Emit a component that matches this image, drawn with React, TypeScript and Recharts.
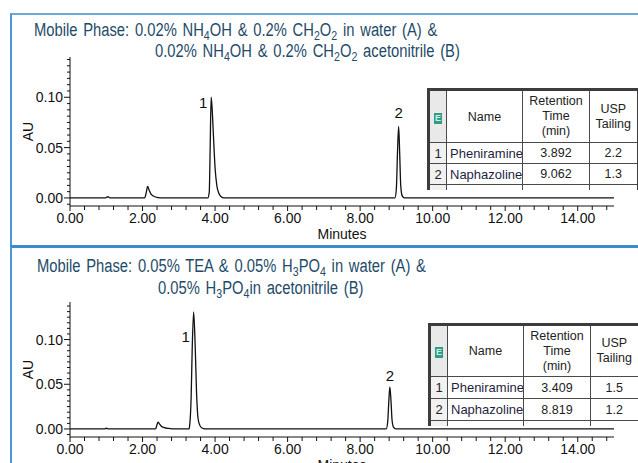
import React from 'react';
import { LineChart, Line, XAxis, YAxis, ReferenceDot } from 'recharts';

// Chromatogram 1: 0.02% NH4OH & 0.2% formic acid
const timeA = [0, 0.98, 1.04, 1.1, 2.06, 2.1, 2.14, 2.18, 2.24, 2.34, 2.5, 3.8, 3.84, 3.865, 3.892, 3.92, 3.96, 4.0, 4.05, 4.1, 4.16, 4.25, 8.96, 9.0, 9.03, 9.062, 9.09, 9.12, 9.16, 9.22, 15];
const auA = [0, 0, 0.0012, 0, 0, 0.005, 0.0115, 0.008, 0.0035, 0.0012, 0, 0, 0.006, 0.05, 0.1, 0.088, 0.058, 0.03, 0.012, 0.005, 0.0015, 0, 0, 0.01, 0.045, 0.071, 0.045, 0.012, 0.002, 0, 0];

// Chromatogram 2: 0.05% TEA & 0.05% H3PO4
const timeB = [0, 0.95, 1.0, 1.06, 1.12, 2.36, 2.4, 2.43, 2.47, 2.52, 2.6, 2.72, 2.9, 3.28, 3.3, 3.34, 3.37, 3.409, 3.45, 3.49, 3.53, 3.58, 3.64, 3.72, 8.72, 8.76, 8.79, 8.819, 8.85, 8.88, 8.92, 8.98, 15];
const auB = [0, 0, 0.0008, 0.0002, 0, 0, 0.005, 0.0075, 0.0055, 0.003, 0.0015, 0.0006, 0, 0, 0.004, 0.035, 0.09, 0.131, 0.095, 0.04, 0.012, 0.004, 0.001, 0, 0, 0.008, 0.03, 0.047, 0.032, 0.01, 0.002, 0, 0];

const peakNames = ['Pheniramine', 'Naphazoline'];
const rtA = ['3.892', '9.062'];
const tailingA = ['2.2', '1.3'];
const apexA = [0.1, 0.071];
const rtB = ['3.409', '8.819'];
const tailingB = ['1.5', '1.2'];
const apexB = [0.131, 0.047];

const majorTicksX = [0, 2, 4, 6, 8, 10, 12, 14];
const majorTicksY = [0, 0.05, 0.1];

const FONT = "'Liberation Sans', Arial, sans-serif";
const TITLE_COLOR = '#1e4b69';

const dataA = timeA.map((t, i) => ({ t, au: auA[i] }));
const dataB = timeB.map((t, i) => ({ t, au: auB[i] }));

const minorX = Array.from({ length: 38 }, (_, k) => +(k * 0.4).toFixed(2));
const minorY = Array.from({ length: 24 }, (_, k) => +((k - 1) * 0.00625).toFixed(5));

const isMult = (v: number, step: number) => Math.abs(v / step - Math.round(v / step)) < 1e-6;

const XTick = (props: any) => {
  const { x, y, payload } = props;
  const v = payload.value;
  const major = majorTicksX.some((m) => Math.abs(m - v) < 1e-6);
  return (
    <g>
      <line x1={x} x2={x} y1={y} y2={y + (major ? 5 : 4)} stroke="#111" strokeWidth={1} />
      {major && (
        <text x={x} y={y + 17} textAnchor="middle" fontSize={14} fontFamily={FONT} fill="#111">
          {v.toFixed(2)}
        </text>
      )}
    </g>
  );
};

const YTick = (props: any) => {
  const { x, y, payload } = props;
  const v = payload.value;
  const major = majorTicksY.some((m) => Math.abs(m - v) < 1e-6);
  return (
    <g>
      <line x1={x - (major ? 6 : 3)} x2={x} y1={y} y2={y} stroke="#111" strokeWidth={1} />
      {major && (
        <text x={x - 7} y={y + 5} textAnchor="end" fontSize={14} fontFamily={FONT} fill="#111">
          {v.toFixed(2)}
        </text>
      )}
    </g>
  );
};

const Sub = ({ children }: { children: React.ReactNode }) => (
  <span style={{ fontSize: '0.72em', verticalAlign: '-0.28em' }}>{children}</span>
);

function TitleLine({ left, top, children }: { left: number; top: number; children: React.ReactNode }) {
  return (
    <div
      style={{
        position: 'absolute',
        left,
        top,
        fontSize: 18,
        lineHeight: '20px',
        whiteSpace: 'nowrap',
        color: TITLE_COLOR,
        fontFamily: FONT,
        transform: 'scaleX(0.82)',
        transformOrigin: 'left center',
        wordSpacing: 2,
      }}
    >
      {children}
    </div>
  );
}

const cell: React.CSSProperties = { border: '1px solid #4a4a4a', padding: 0, overflow: 'hidden', whiteSpace: 'nowrap' };

function ResultsTable({ left, top, headerH, rowH, rts, tailings }: any) {
  return (
    <table
      style={{
        position: 'absolute',
        left,
        top,
        width: 209,
        tableLayout: 'fixed',
        borderCollapse: 'collapse',
        background: '#fff',
        fontFamily: FONT,
        fontSize: 12.5,
        color: '#222',
        borderTop: '3px solid #3c3c3c',
        borderLeft: '3px solid #3c3c3c',
        borderRight: '2px solid #3c3c3c',
      }}
    >
      <colgroup>
        <col style={{ width: 18 }} />
        <col style={{ width: 76 }} />
        <col style={{ width: 67 }} />
        <col style={{ width: 48 }} />
      </colgroup>
      <tbody>
        <tr style={{ height: headerH }}>
          <td style={{ ...cell, background: '#e9e9e9', textAlign: 'center' }}>
            <span
              style={{
                display: 'inline-block',
                width: 8,
                height: 11,
                lineHeight: '11px',
                fontSize: 9,
                fontWeight: 700,
                background: '#2f9c86',
                color: '#cfeee6',
              }}
            >
              E
            </span>
          </td>
          <td style={{ ...cell, textAlign: 'center' }}>Name</td>
          <td style={{ ...cell, textAlign: 'center', lineHeight: '15px' }}>
            Retention
            <br />
            Time
            <br />
            (min)
          </td>
          <td style={{ ...cell, textAlign: 'center', lineHeight: '15px' }}>
            USP
            <br />
            Tailing
          </td>
        </tr>
        {peakNames.map((name, i) => (
          <tr key={name} style={{ height: rowH }}>
            <td style={{ ...cell, background: '#f1f1f1', textAlign: 'center', fontSize: 13 }}>{i + 1}</td>
            <td style={{ ...cell, paddingLeft: 3, color: '#1f1f3d', fontSize: 13 }}>{name}</td>
            <td style={{ ...cell, textAlign: 'center' }}>{rts[i]}</td>
            <td style={{ ...cell, textAlign: 'center' }}>{tailings[i]}</td>
          </tr>
        ))}
        <tr style={{ height: 5 }}>
          {[0, 1, 2, 3].map((k) => (
            <td key={k} style={{ ...cell, borderBottom: 'none', background: k === 0 ? '#f1f1f1' : '#fff' }} />
          ))}
        </tr>
      </tbody>
    </table>
  );
}

function PeakLabel({ viewBox, text, dx, dy }: any) {
  const cx = viewBox.x + (viewBox.width || 0) / 2;
  const cy = viewBox.y + (viewBox.height || 0) / 2;
  return (
    <text x={cx + dx} y={cy + dy} textAnchor="middle" fontSize={15} fontFamily={FONT} fill="#111">
      {text}
    </text>
  );
}

function Chromatogram({ data, height, top, yDomain, apex, rts, labelOffsets }: any) {
  return (
    <LineChart
      width={638}
      height={height}
      data={data}
      margin={{ top, right: 24, left: 0, bottom: 0 }}
      style={{ fontFamily: FONT }}
    >
      <XAxis
        dataKey="t"
        type="number"
        domain={[0, 15]}
        allowDataOverflow
        ticks={minorX}
        interval={0}
        tick={<XTick />}
        tickLine={false}
        tickSize={0}
        tickMargin={0}
        height={height - top - (height === 247 ? 149 : 135)}
        axisLine={{ stroke: '#111', strokeWidth: 1 }}
        label={{ value: 'Minutes', position: 'insideTop', offset: 23, fontSize: 14, fill: '#111', fontFamily: FONT }}
      />
      <YAxis
        type="number"
        domain={yDomain}
        allowDataOverflow
        ticks={minorY.filter((v) => v >= yDomain[0] && v <= yDomain[1])}
        interval={0}
        tick={<YTick />}
        tickLine={false}
        tickSize={0}
        tickMargin={0}
        width={70}
        axisLine={{ stroke: '#111', strokeWidth: 1 }}
        label={{
          content: (p: any) => {
            const vb = p.viewBox;
            const cy = vb.y + vb.height / 2;
            return (
              <text x={28} y={cy} transform={`rotate(-90 28 ${cy})`} textAnchor="middle" dominantBaseline="central" fontSize={14} fontFamily={FONT} fill="#111">
                AU
              </text>
            );
          },
        }}
      />
      <Line type="monotone" dataKey="au" stroke="#111" strokeWidth={1.3} dot={false} isAnimationActive={false} />
      {rts.map((rt: string, i: number) => (
        <ReferenceDot
          key={rt}
          x={parseFloat(rt)}
          y={apex[i]}
          r={1}
          fill="none"
          stroke="none"
          label={{ content: (p: any) => <PeakLabel viewBox={p.viewBox} text={String(i + 1)} dx={labelOffsets[i][0]} dy={labelOffsets[i][1]} /> }}
        />
      ))}
    </LineChart>
  );
}

export default function App() {
  return (
    <div style={{ position: 'absolute', left: 0, top: 0, width: 638, height: 463, overflow: 'hidden', background: '#fff', fontFamily: FONT }}>
      <div style={{ position: 'absolute', left: 10, top: 13, width: 700, height: 240, borderLeft: '2px solid #4d98d4', borderTop: '2px solid #6aa9dc' }} />
      <div style={{ position: 'absolute', left: 10, top: 245, width: 700, height: 240, borderLeft: '2px solid #4d98d4', borderTop: '3px solid #3a8ccf' }} />

      <div style={{ position: 'absolute', left: 0, top: 0 }}>
        <Chromatogram data={dataA} height={247} top={57} yDomain={[-0.008, 0.14]} apex={apexA} rts={rtA} labelOffsets={[[-8, 11], [0, -8]]} />
      </div>
      <div style={{ position: 'absolute', left: 0, top: 248 }}>
        <Chromatogram data={dataB} height={240} top={54} yDomain={[-0.009, 0.142]} apex={apexB} rts={rtB} labelOffsets={[[-8, 30], [0, -6]]} />
      </div>

      <TitleLine left={34} top={20}>
        Mobile Phase: 0.02% NH<Sub>4</Sub>OH &amp; 0.2% CH<Sub>2</Sub>O<Sub>2</Sub> in water (A) &amp;
      </TitleLine>
      <TitleLine left={155} top={41}>
        0.02% NH<Sub>4</Sub>OH &amp; 0.2% CH<Sub>2</Sub>O<Sub>2</Sub> acetonitrile (B)
      </TitleLine>
      <TitleLine left={37} top={256}>
        Mobile Phase: 0.05% TEA &amp; 0.05% H<Sub>3</Sub>PO<Sub>4</Sub> in water (A) &amp;
      </TitleLine>
      <TitleLine left={158} top={278}>
        0.05% H<Sub>3</Sub>PO<Sub>4</Sub>in acetonitrile (B)
      </TitleLine>

      <ResultsTable left={427} top={88} headerH={53} rowH={21} rts={rtA} tailings={tailingA} />
      <ResultsTable left={428} top={323} headerH={52} rowH={22} rts={rtB} tailings={tailingB} />
    </div>
  );
}
